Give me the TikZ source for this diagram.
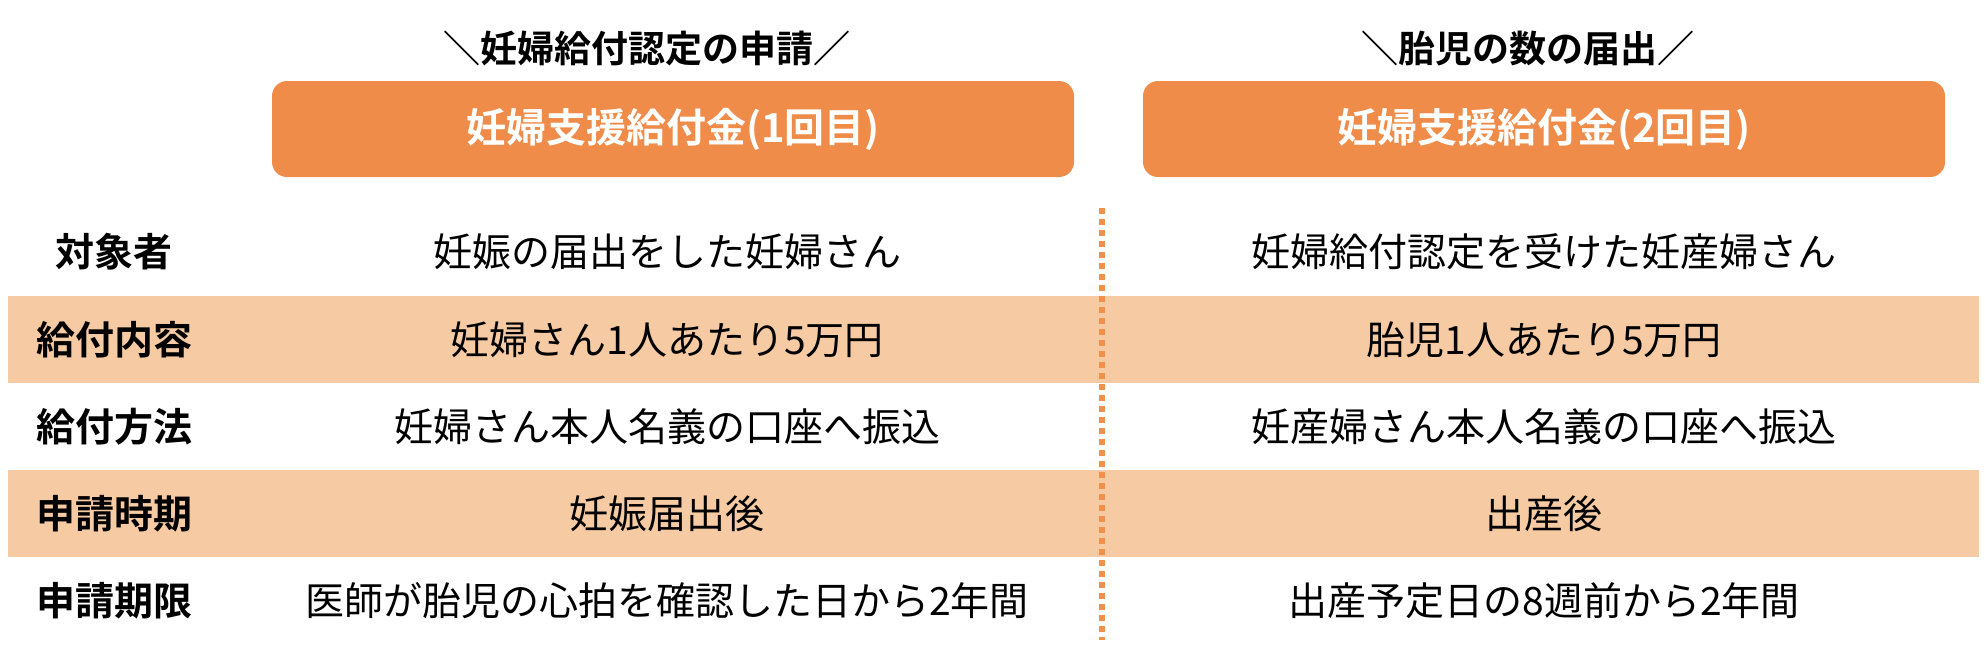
\documentclass[tikz,border=0pt]{standalone}
\usepackage{fontspec}
\newfontfamily\jp{Noto Sans CJK JP}
\newfontfamily\jpb{Noto Sans CJK JP Bold}
\definecolor{hdr}{HTML}{EF8C4A}
\definecolor{band}{HTML}{F6CBA4}
\definecolor{dotc}{HTML}{F0904A}
\begin{document}
\begin{tikzpicture}[x=0.5pt,y=-0.5pt,
  hdrbox/.style={fill=hdr, rounded corners=7.5pt, minimum width=401pt, minimum height=48pt, inner sep=0pt, text=white, font=\jpb\fontsize{20pt}{22pt}\selectfont},
  titletext/.style={inner sep=0pt, font=\jpb\fontsize{18.5pt}{22pt}\selectfont},
  labeltext/.style={inner sep=0pt, font=\jpb\fontsize{19.5pt}{22pt}\selectfont},
  valtext/.style={inner sep=0pt, font=\jp\fontsize{19.5pt}{22pt}\selectfont},
  bandrow/.style={fill=band},
  dotline/.style={draw=dotc, line width=3pt, dash pattern=on 3pt off 2.5pt}
]
\useasboundingbox (0,0) rectangle (1985,645);
% bands
\fill[bandrow] (8,296) rectangle (1979,383);
\fill[bandrow] (8,470) rectangle (1979,557);
% titles
\node[titletext] (t1) at (647,49) {＼妊婦給付認定の申請／};
\node[titletext] (t2) at (1528,49) {＼胎児の数の届出／};
% header boxes
\node[hdrbox] (h1) at (673,129) {妊婦支援給付金(1回目)};
\node[hdrbox] (h2) at (1544,129) {妊婦支援給付金(2回目)};
% divider
\coordinate (d1) at (1102,208);
\coordinate (d2) at (1102,640);
\draw[dotline] (d1) -- (d2);
% labels
\node[labeltext] (l1) at (114,252) {対象者};
\node[labeltext] (l2) at (114,340) {給付内容};
\node[labeltext] (l3) at (114,427) {給付方法};
\node[labeltext] (l4) at (114,514) {申請時期};
\node[labeltext] (l5) at (114,601) {申請期限};
% left values
\node[valtext] (a1) at (667,252) {妊娠の届出をした妊婦さん};
\node[valtext] (a2) at (667,340) {妊婦さん1人あたり5万円};
\node[valtext] (a3) at (667,427) {妊婦さん本人名義の口座へ振込};
\node[valtext] (a4) at (667,514) {妊娠届出後};
\node[valtext] (a5) at (667,601) {医師が胎児の心拍を確認した日から2年間};
% right values
\node[valtext] (b1) at (1544,252) {妊婦給付認定を受けた妊産婦さん};
\node[valtext] (b2) at (1544,340) {胎児1人あたり5万円};
\node[valtext] (b3) at (1544,427) {妊産婦さん本人名義の口座へ振込};
\node[valtext] (b4) at (1544,514) {出産後};
\node[valtext] (b5) at (1544,601) {出産予定日の8週前から2年間};
\end{tikzpicture}
\end{document}
